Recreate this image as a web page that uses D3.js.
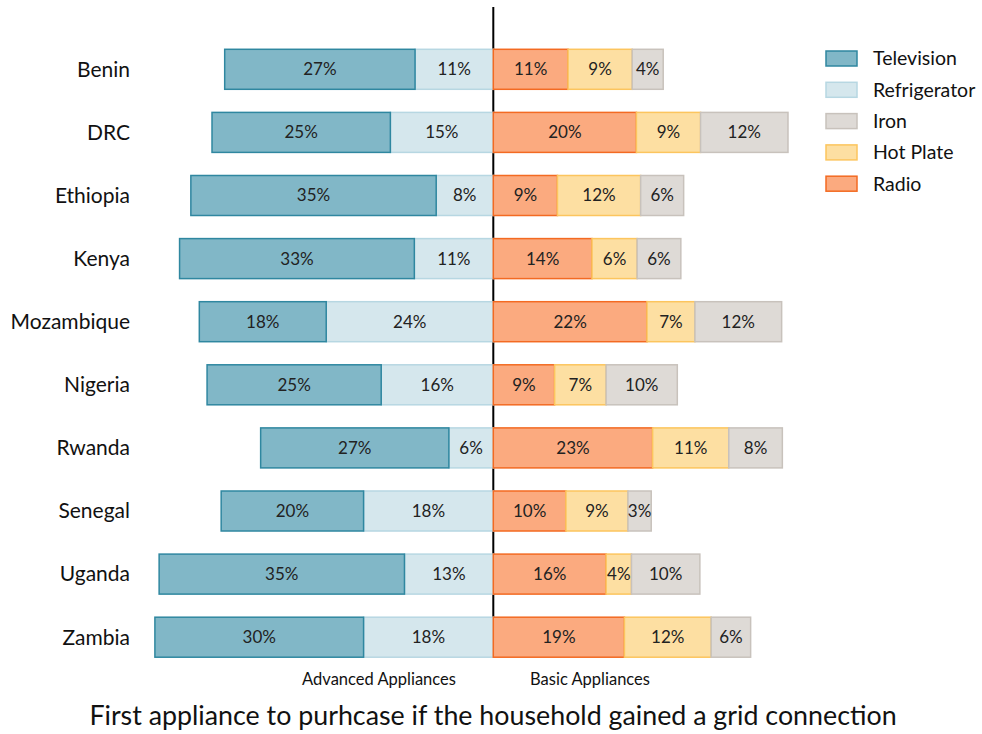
<!DOCTYPE html>
<html><head><meta charset="utf-8">
<script src="https://cdn.jsdelivr.net/npm/d3@7"></script>
<style>body{margin:0;background:#fff;} svg{display:block;font-family:Lato, "Open Sans", sans-serif;}</style>
</head><body><svg id="chart" width="982" height="734"></svg>
<script>
const countries = ["Benin","DRC","Ethiopia","Kenya","Mozambique","Nigeria","Rwanda","Senegal","Uganda","Zambia"];
const television   = [27.0, 25.3, 34.8, 33.3, 18.0, 24.7, 26.7, 20.2, 34.8, 29.6];
const refrigerator = [11.1, 14.6,  8.1, 11.2, 23.7, 15.9,  6.3, 18.4, 12.6, 18.4];
const radio        = [10.6, 20.3,  9.1, 14.0, 21.8,  8.7, 22.6, 10.3, 16.0, 18.6];
const hotPlate     = [ 9.1,  9.1, 11.8,  6.4,  6.8,  7.3, 10.8,  8.8,  3.6, 12.3];
const iron         = [ 4.4, 12.4,  6.1,  6.2, 12.3, 10.1,  7.6,  3.3,  9.7,  5.6];
const legendLabels = ["Television","Refrigerator","Iron","Hot Plate","Radio"];
const sideLabels = ["Advanced Appliances","Basic Appliances"];
const titleText = "First appliance to purhcase if the household gained a grid connection";

const colors = {
  "Television":  {fill:"#81b7c7", stroke:"#2f87a0"},
  "Refrigerator":{fill:"#d5e7ed", stroke:"#b7d7e2"},
  "Iron":        {fill:"#dedad6", stroke:"#c8c2bc"},
  "Hot Plate":   {fill:"#fddfa2", stroke:"#fcc55e"},
  "Radio":       {fill:"#fbaa7f", stroke:"#f36a22"}
};

const svg = d3.select("#chart");
const x = d3.scaleLinear().domain([-45, 45]).range([493.3 - 317.25, 493.3 + 317.25]);
const y = d3.scaleBand().domain(countries).range([26.2, 680.3]).padding(0.366);

// segments
const left = [["Refrigerator", refrigerator], ["Television", television]];
const right = [["Radio", radio], ["Hot Plate", hotPlate], ["Iron", iron]];
const segs = [];
countries.forEach((c, i) => {
  let acc = 0;
  left.forEach(([name, arr]) => { segs.push({c, name, v: arr[i], x0: -(acc + arr[i]), x1: -acc}); acc += arr[i]; });
  acc = 0;
  right.forEach(([name, arr]) => { segs.push({c, name, v: arr[i], x0: acc, x1: acc + arr[i]}); acc += arr[i]; });
});

// center line
svg.append("line")
  .attr("x1", x(0)).attr("x2", x(0))
  .attr("y1", 7).attr("y2", y(countries[countries.length-1]) + y.bandwidth())
  .attr("stroke", "#000").attr("stroke-width", 2);

const g = svg.append("g");
g.selectAll("rect").data(segs).join("rect")
  .attr("x", d => x(d.x0)).attr("width", d => x(d.x1) - x(d.x0))
  .attr("y", d => y(d.c)).attr("height", y.bandwidth())
  .attr("fill", d => colors[d.name].fill)
  .attr("stroke", d => colors[d.name].stroke)
  .attr("stroke-width", 1.5);

g.selectAll("text.val").data(segs).join("text").attr("class","val")
  .attr("x", d => (x(d.x0) + x(d.x1)) / 2)
  .attr("y", d => y(d.c) + y.bandwidth() / 2)
  .attr("dy", "0.35em").attr("text-anchor", "middle")
  .attr("font-size", 17).attr("fill", "#222")
  .text(d => Math.round(d.v) + "%");

// country labels
svg.selectAll("text.country").data(countries).join("text").attr("class","country")
  .attr("x", 130).attr("y", d => y(d) + y.bandwidth()/2)
  .attr("dy", "0.35em").attr("text-anchor", "end")
  .attr("font-size", 21).attr("fill", "#111")
  .text(d => d);

// legend
const lg = svg.append("g").attr("transform", "translate(826,51)");
legendLabels.forEach((name, i) => {
  lg.append("rect").attr("x", 0).attr("y", i * 31.3).attr("width", 31).attr("height", 15)
    .attr("fill", colors[name].fill).attr("stroke", colors[name].stroke).attr("stroke-width", 1.5);
  lg.append("text").attr("x", 47).attr("y", i * 31.3 + 7.5).attr("dy", "0.35em")
    .attr("font-size", 19.5).attr("fill", "#111").text(name);
});

// side labels
svg.append("text").attr("x", 379).attr("y", 679).attr("dy","0.35em").attr("text-anchor","middle")
  .attr("font-size", 16.5).attr("fill","#111").text(sideLabels[0]);
svg.append("text").attr("x", 590).attr("y", 679).attr("dy","0.35em").attr("text-anchor","middle")
  .attr("font-size", 16.5).attr("fill","#111").text(sideLabels[1]);

// title
svg.append("text").attr("x", 493).attr("y", 716).attr("dy","0.35em").attr("text-anchor","middle")
  .attr("font-size", 26.8).attr("fill","#111").text(titleText);
</script></body></html>
